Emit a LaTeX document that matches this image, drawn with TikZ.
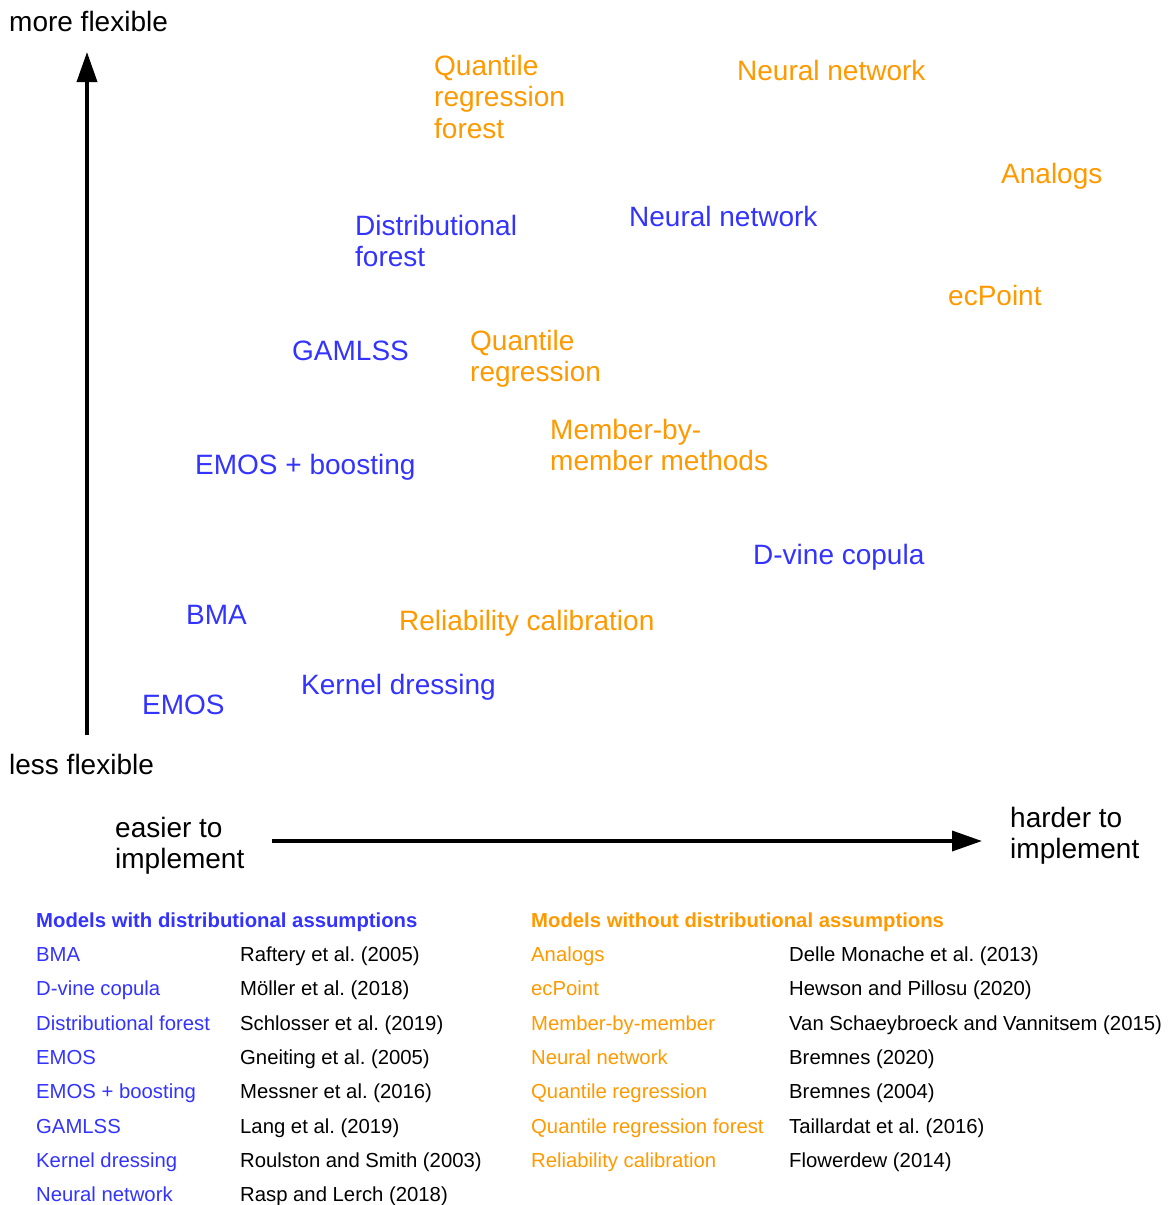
\documentclass[tikz,border=0pt]{standalone}
\usepackage{fontspec}
\setmainfont{Liberation Sans}
\usetikzlibrary{arrows.meta}
\frenchspacing
\definecolor{mblue}{RGB}{51,51,255}
\definecolor{morange}{RGB}{255,153,0}
\newcommand{\vl}[1]{\vtop{#1}}
\tikzset{
  big/.style={anchor=base west, inner sep=0pt, font=\fontsize{28}{31.5}\selectfont},
  bl/.style={big, text=mblue},
  og/.style={big, text=morange},
  blk/.style={big, text=black},
  tab/.style={anchor=base west, inner sep=0pt, font=\fontsize{20.3}{24}\selectfont},
  tabb/.style={tab, text=mblue},
  tabo/.style={tab, text=morange},
  axis/.style={line width=3.6pt, -{Triangle[length=30pt,width=20pt]}}
}
\begin{document}
\begin{tikzpicture}[x=1pt,y=-1pt]
\useasboundingbox (0,0) rectangle (1171,1205);
% axes
\node[blk] (more) at (9,31.5) {more flexible};
\node[blk] (less) at (9,774) {less flexible};
\coordinate (ybot) at (87,735);
\coordinate (ytop) at (87,52);
\draw[axis] (ybot) -- (ytop);
\node[blk] (easier) at (115,837) {\vl{\hbox{easier to}\hbox{implement}}};
\node[blk] (harder) at (1010,827) {\vl{\hbox{harder to}\hbox{implement}}};
\coordinate (xl) at (272,841);
\coordinate (xr) at (982,841);
\draw[axis] (xl) -- (xr);
% orange labels
\node[og] (oqrf) at (434,75) {\vl{\hbox{Quantile}\hbox{regression}\hbox{forest}}};
\node[og] (onn) at (737,80) {Neural network};
\node[og] (oan) at (1001,183) {Analogs};
\node[og] (oec) at (948,305) {ecPoint};
\node[og] (oqr) at (470,350) {\vl{\hbox{Quantile}\hbox{regression}}};
\node[og] (omb) at (550,439) {\vl{\hbox{Member-by-}\hbox{member methods}}};
\node[og] (orc) at (399,630) {Reliability calibration};
% blue labels
\node[bl] (bdf) at (355,235) {\vl{\hbox{Distributional}\hbox{forest}}};
\node[bl] (bnn) at (629,226) {Neural network};
\node[bl] (bga) at (292,360) {GAMLSS};
\node[bl] (beb) at (195,474) {EMOS + boosting};
\node[bl] (bdv) at (753,564) {D-vine copula};
\node[bl] (bbm) at (186,624) {BMA};
\node[bl] (bkd) at (301,694) {Kernel dressing};
\node[bl] (bem) at (142,714) {EMOS};
% tables
\node[tabb, font=\fontsize{20.3}{24}\selectfont\bfseries] (h1) at (36,927) {Models with distributional assumptions};
\node[tabo, font=\fontsize{20.3}{24}\selectfont\bfseries] (h2) at (531,927) {Models without distributional assumptions};
\foreach \i/\m/\r in {0/BMA/Raftery et al. (2005),
  1/D-vine copula/Möller et al. (2018),
  2/Distributional forest/Schlosser et al. (2019),
  3/EMOS/Gneiting et al. (2005),
  4/EMOS + boosting/Messner et al. (2016),
  5/GAMLSS/Lang et al. (2019),
  6/Kernel dressing/Roulston and Smith (2003),
  7/Neural network/Rasp and Lerch (2018)}{
  \node[tabb] (lm\i) at (36,{961.5+34.3*\i}) {\m};
  \node[tab] (lr\i) at (240,{961.5+34.3*\i}) {\r};
}
\foreach \i/\m/\r in {0/Analogs/Delle Monache et al. (2013),
  1/ecPoint/Hewson and Pillosu (2020),
  2/Member-by-member/Van Schaeybroeck and Vannitsem (2015),
  3/Neural network/Bremnes (2020),
  4/Quantile regression/Bremnes (2004),
  5/Quantile regression forest/Taillardat et al. (2016),
  6/Reliability calibration/Flowerdew (2014)}{
  \node[tabo] (rm\i) at (531,{961.5+34.3*\i}) {\m};
  \node[tab] (rr\i) at (789,{961.5+34.3*\i}) {\r};
}
\end{tikzpicture}
\end{document}
